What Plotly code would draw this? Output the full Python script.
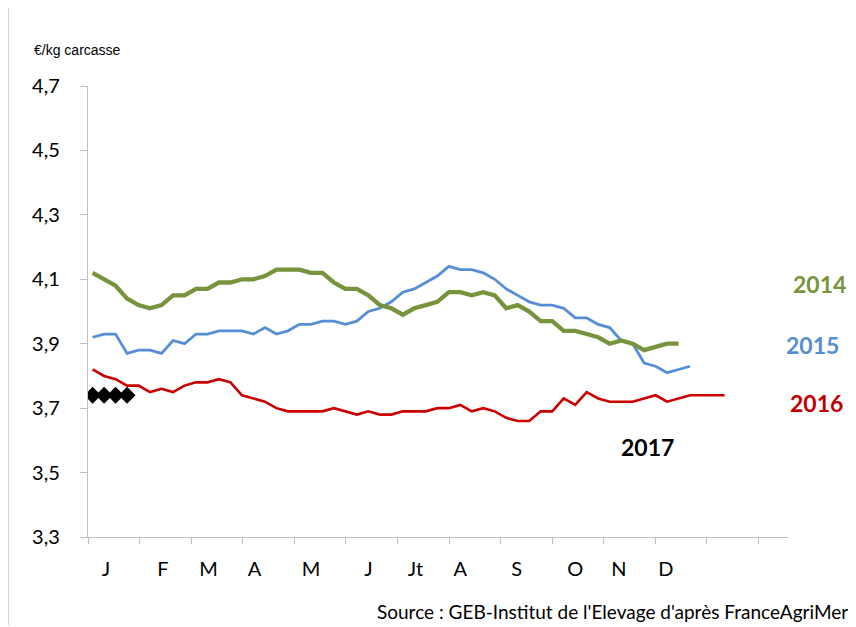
import plotly.graph_objects as go

# ---------------- data ----------------
y2014 = [4.12, 4.10, 4.08, 4.04, 4.02, 4.01, 4.02, 4.05, 4.05, 4.07, 4.07, 4.09, 4.09, 4.10,
         4.10, 4.11, 4.13, 4.13, 4.13, 4.12, 4.12, 4.09, 4.07, 4.07, 4.05, 4.02, 4.01,
         3.99, 4.01, 4.02, 4.03, 4.06, 4.06, 4.05, 4.06, 4.05, 4.01, 4.02, 4.00, 3.97, 3.97,
         3.94, 3.94, 3.93, 3.92, 3.90, 3.91, 3.90, 3.88, 3.89, 3.90, 3.90]
y2015 = [3.92, 3.93, 3.93, 3.87, 3.88, 3.88, 3.87, 3.91, 3.90, 3.93, 3.93, 3.94, 3.94, 3.94,
         3.93, 3.95, 3.93, 3.94, 3.96, 3.96, 3.97, 3.97, 3.96, 3.97, 4.00, 4.01, 4.03,
         4.06, 4.07, 4.09, 4.11, 4.14, 4.13, 4.13, 4.12, 4.10, 4.07, 4.05, 4.03, 4.02, 4.02,
         4.01, 3.98, 3.98, 3.96, 3.95, 3.91, 3.90, 3.84, 3.83, 3.81, 3.82, 3.83]
y2016 = [3.82, 3.80, 3.79, 3.77, 3.77, 3.75, 3.76, 3.75, 3.77, 3.78, 3.78, 3.79, 3.78, 3.74,
         3.73, 3.72, 3.70, 3.69, 3.69, 3.69, 3.69, 3.70, 3.69, 3.68, 3.69, 3.68, 3.68,
         3.69, 3.69, 3.69, 3.70, 3.70, 3.71, 3.69, 3.70, 3.69, 3.67, 3.66, 3.66, 3.69, 3.69,
         3.73, 3.71, 3.75, 3.73, 3.72, 3.72, 3.72, 3.73, 3.74, 3.72, 3.73, 3.74, 3.74, 3.74, 3.74]
y2017 = [3.74, 3.74, 3.74, 3.74]

months = ["J", "F", "M", "A", "M", "J", "Jt", "A", "S", "O", "N", "D"]
month_pos = [1.17, 6.13, 10.1, 14.1, 19.0, 24.0, 28.1, 32.0, 36.9, 42.0, 45.8, 49.9]

y_ticks = [3.3, 3.5, 3.7, 3.9, 4.1, 4.3, 4.5, 4.7]
y_ticktext = ["3,3", "3,5", "3,7", "3,9", "4,1", "4,3", "4,5", "4,7"]

series_names = ["2014", "2015", "2016", "2017"]

# ---------------- figure ----------------
FONT = "Lato"
GREEN = "#77933C"
BLUE = "#558ED5"
RED = "#CC0000"

fig = go.Figure()

def weeks(vals):
    return list(range(len(vals)))

fig.add_trace(go.Scatter(x=weeks(y2016), y=y2016, mode="lines", name=series_names[2],
                         line=dict(color=RED, width=2.6), hoverinfo="skip"))
fig.add_trace(go.Scatter(x=weeks(y2015), y=y2015, mode="lines", name=series_names[1],
                         line=dict(color=BLUE, width=2.8), hoverinfo="skip"))
fig.add_trace(go.Scatter(x=weeks(y2014), y=y2014, mode="lines", name=series_names[0],
                         line=dict(color=GREEN, width=4.3), hoverinfo="skip"))
fig.add_trace(go.Scatter(x=weeks(y2017), y=y2017, mode="lines+markers", name=series_names[3],
                         line=dict(color="black", width=2),
                         marker=dict(symbol="diamond", size=13, color="black"),
                         hoverinfo="skip"))

# invisible trace on second x axis to carry month labels
fig.add_trace(go.Scatter(x=month_pos, y=[None] * len(month_pos), xaxis="x2",
                         mode="markers", showlegend=False, hoverinfo="skip"))

XR = [-0.40, 60.52]
AX = "#BFBFBF"

fig.update_layout(
    width=848, height=619,
    margin=dict(l=80, r=68, t=78, b=90),
    paper_bgcolor="white", plot_bgcolor="white",
    showlegend=False,
    font=dict(family=FONT, color="black"),
    xaxis=dict(range=XR, showgrid=False, zeroline=False, showline=True,
               linecolor=AX, linewidth=1.3, ticks="outside", ticklen=6,
               tickcolor=AX, tickwidth=1.3, tickmode="linear", tick0=-0.40,
               dtick=4.489, showticklabels=False),
    xaxis2=dict(range=XR, overlaying="x", side="bottom", showgrid=False,
                zeroline=False, showline=False, ticks="",
                tickmode="array", tickvals=month_pos, ticktext=months,
                tickfont=dict(family=FONT, size=20, color="black"),
                ticklabelstandoff=18),
    yaxis=dict(range=[3.3, 4.7], showgrid=False, zeroline=False, showline=True,
               linecolor=AX, linewidth=1.3, ticks="outside", ticklen=7,
               tickcolor=AX, tickwidth=1.3, tickmode="array",
               tickvals=y_ticks, ticktext=y_ticktext,
               tickfont=dict(family=FONT, size=20, color="black"),
               ticklabelstandoff=16),
)

labels = [
    (series_names[0], 1.045, 0.561, GREEN),
    (series_names[1], 1.035, 0.4257, BLUE),
    (series_names[2], 1.040, 0.2965, "#C00000"),
    (series_names[3], 0.7993, 0.1989, "black"),
]
for txt, xp, yp, col in labels:
    fig.add_annotation(text="<b>%s</b>" % txt, x=xp, y=yp, xref="paper", yref="paper",
                       showarrow=False, xanchor="center", yanchor="middle",
                       font=dict(family=FONT, size=23, color=col))

fig.add_annotation(text="€/kg carcasse", x=-0.08, y=1.0798, xref="paper", yref="paper",
                   showarrow=False, xanchor="left", yanchor="middle",
                   font=dict(family="Liberation Sans", size=14, color="black"))
fig.add_annotation(text="Source : GEB-Institut de l'Elevage d'après FranceAgriMer",
                   x=1.088, y=-0.166, xref="paper", yref="paper", showarrow=False,
                   xanchor="right", yanchor="middle",
                   font=dict(family=FONT, size=19, color="black"))

# left border of the chart frame
fig.add_shape(type="line", xref="paper", yref="paper", x0=-0.1139, x1=-0.1139,
              y0=1.177, y1=-0.195, line=dict(color="#C8C8C8", width=1))

fig.write_html("out.html")
